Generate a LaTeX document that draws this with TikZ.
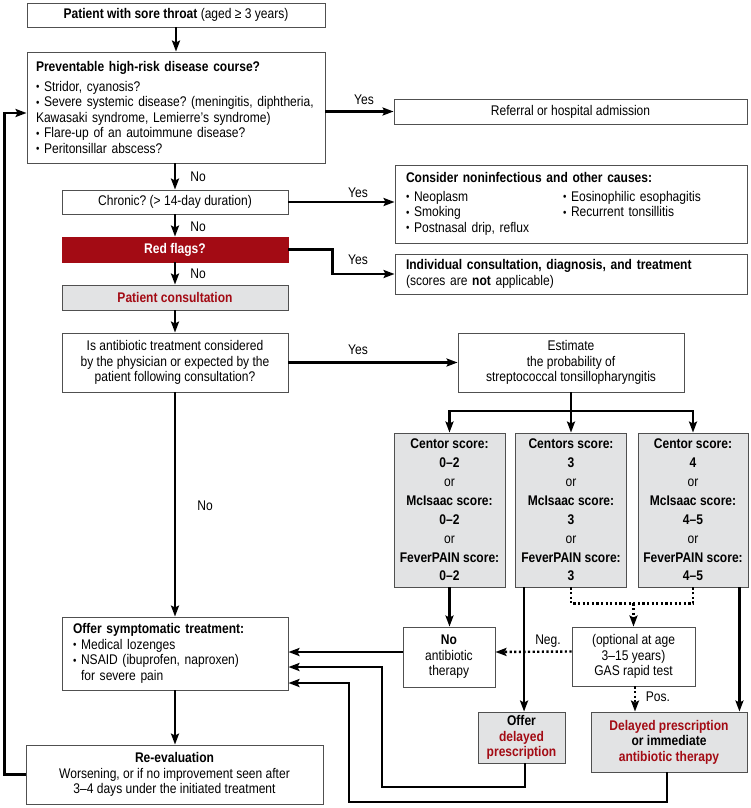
\documentclass[tikz,border=0pt]{standalone}
\usepackage{fontspec}
\setmainfont{Liberation Sans}[FakeStretch=0.86]
\usetikzlibrary{arrows.meta}
\definecolor{darkred}{HTML}{A30B14}
\definecolor{boxgrey}{HTML}{E2E3E4}
\definecolor{edge}{HTML}{505050}
\frenchspacing
\newcommand\fs{\fontsize{14}{15.5}\selectfont}
\newcommand\bul{\raisebox{0.5pt}{\scalebox{0.8}{•}}\ }
\tikzset{
 bx/.style={draw=edge, line width=0.9pt, fill=white, inner sep=0pt, align=center, font=\fs},
 gbx/.style={bx, fill=boxgrey},
 conn/.style={line width=2.7pt, -{Stealth[length=11pt,width=8pt,inset=2pt]}},
 plainline/.style={line width=2.7pt},
 dotl/.style={line width=2.4pt, dash pattern=on 2.2pt off 2.4pt},
 dotarrow/.style={dotl, -{Stealth[length=11pt,width=8pt,inset=2pt]}},
 lbl/.style={font=\fs, inner sep=0pt},
 scorefont/.style={font=\fontsize{14}{18.9}\selectfont\bfseries}
}
\begin{document}
\begin{tikzpicture}[x=1pt,y=-1pt]
\useasboundingbox[fill=white] (0,0) rectangle (751,808);

% nodes
\node[bx, minimum width=298pt, minimum height=24pt] (start) at (176,15) {\textbf{Patient with sore throat} (aged ≥ 3 years)};
\node[bx, minimum width=298pt, minimum height=111pt, text width=280pt, align=left] (risk) at (176,107.5)
 {\textbf{Preventable high-risk disease course?}\\[4pt]
  \bul Stridor, cyanosis?\\
  \bul Severe systemic disease? (meningitis, diphtheria,\\
  Kawasaki syndrome, Lemierre’s syndrome)\\
  \bul Flare-up of an autoimmune disease?\\
  \bul Peritonsillar abscess?};
\node[bx, minimum width=353pt, minimum height=25pt] (refer) at (570.5,111.5) {Referral or hospital admission};
\node[bx, minimum width=226pt, minimum height=24pt] (chronic) at (175,202) {Chronic? (> 14-day duration)};
\node[bx, minimum width=352pt, minimum height=78pt, text width=330pt, align=left] (causes) at (571,204)
 {\textbf{Consider noninfectious and other causes:}\\[3pt]
  \makebox[157pt][l]{\bul Neoplasm}\bul Eosinophilic esophagitis\\
  \makebox[157pt][l]{\bul Smoking}\bul Recurrent tonsillitis\\
  \bul Postnasal drip, reflux};
\node[bx, draw=darkred, fill=darkred, text=white, font=\fs\bfseries, minimum width=226pt, minimum height=25pt] (red) at (175,249.5) {Red flags?};
\node[bx, minimum width=352pt, minimum height=40pt, text width=330pt, align=left] (indiv) at (571,274)
 {\textbf{Individual consultation, diagnosis, and treatment}\\ (scores are \textbf{not} applicable)};
\node[gbx, text=darkred, font=\fs\bfseries, minimum width=226pt, minimum height=25pt] (consult) at (175,297.5) {Patient consultation};
\node[bx, minimum width=226pt, minimum height=59pt] (abq) at (175,362.5)
 {Is antibiotic treatment considered\\ by the physician or expected by the\\ patient following consultation?};
\node[bx, minimum width=226pt, minimum height=59pt] (est) at (571,362.5)
 {Estimate\\ the probability of\\ streptococcal tonsillopharyngitis};
\node[gbx, scorefont, minimum width=111pt, minimum height=154pt] (sA) at (449.5,510)
 {Centor score:\\ 0–2\\ \textmd{or}\\ McIsaac score:\\ 0–2\\ \textmd{or}\\ FeverPAIN score:\\ 0–2};
\node[gbx, scorefont, minimum width=111pt, minimum height=154pt] (sB) at (571,510)
 {Centors score:\\ 3\\ \textmd{or}\\ McIsaac score:\\ 3\\ \textmd{or}\\ FeverPAIN score:\\ 3};
\node[gbx, scorefont, minimum width=110pt, minimum height=154pt] (sC) at (693,510)
 {Centor score:\\ 4\\ \textmd{or}\\ McIsaac score:\\ 4–5\\ \textmd{or}\\ FeverPAIN score:\\ 4–5};
\node[bx, minimum width=92pt, minimum height=60pt] (noab) at (449,657) {\textbf{No}\\ antibiotic\\ therapy};
\node[bx, minimum width=123pt, minimum height=59pt] (gas) at (633.5,656.5) {(optional at age\\ 3–15 years)\\ GAS rapid test};
\node[gbx, font=\fs\bfseries, minimum width=87pt, minimum height=51pt] (offer) at (521.5,737.5)
 {Offer\\ \textcolor{darkred}{delayed}\\ \textcolor{darkred}{prescription}};
\node[gbx, font=\fs\bfseries, minimum width=156pt, minimum height=60pt] (delay) at (669,742)
 {\textcolor{darkred}{Delayed prescription}\\ or immediate\\ \textcolor{darkred}{antibiotic therapy}};
\node[bx, minimum width=226pt, minimum height=73pt, text width=204pt, align=left] (symp) at (175,653.5)
 {\textbf{Offer symptomatic treatment:}\\
  \bul Medical lozenges\\
  \bul NSAID (ibuprofen, naproxen)\\
  \phantom{\bul}for severe pain};
\node[bx, minimum width=297pt, minimum height=59pt] (reeval) at (174.5,774.5)
 {\textbf{Re-evaluation}\\ Worsening, or if no improvement seen after\\ 3–4 days under the initiated treatment};

% labels
\node[lbl] (yes1) at (364,100) {Yes};
\node[lbl] (yes2) at (358,193) {Yes};
\node[lbl] (yes3) at (358,260) {Yes};
\node[lbl] (yes4) at (358,350) {Yes};
\node[lbl] (no1) at (198,177) {No};
\node[lbl] (no2) at (198,227) {No};
\node[lbl] (no3) at (198,274) {No};
\node[lbl] (no4) at (205,506) {No};
\node[lbl] (neg) at (548,641) {Neg.};
\node[lbl] (pos) at (658,697) {Pos.};

% coordinates for bends
\coordinate (split) at (571,411);
\coordinate (bend1) at (382,787);
\coordinate (bend2) at (349,802);
\coordinate (loopx) at (4.5,774.5);

% connectors
\draw[conn] (start) -- (risk);
\draw[conn] (risk.east |- refer.west) -- (refer.west);
\draw[conn] (risk.south -| chronic.north) -- (chronic.north);
\draw[conn] (chronic.east) -- (chronic.east -| causes.west);
\draw[conn] (chronic) -- (red);
\draw[conn] (red.east) -- ++(44,0) |- (indiv.west);
\draw[conn] (red) -- (consult);
\draw[conn] (consult) -- (abq);
\draw[conn] (abq) -- (est);
\draw[plainline] (est.south) -- (split);
\draw[conn] (split) -| (sA.north);
\draw[conn] (split) -| (sC.north);
\draw[conn] (split) -- (sB.north);
\draw[conn] (abq) -- (symp);
\draw[conn] (sA.south) -- (sA.south |- noab.north);
\draw[conn] ([yshift=5pt]noab.west) -- ([yshift=5pt]noab.west -| symp.east);
\draw[conn] ([xshift=9pt]sB.south west) -- ([xshift=9pt]sB.south west |- offer.north);
\draw[dotl] (sB.south) -- ++(0,16) coordinate (dl) -- (dl -| sC.south) -- (sC.south);
\draw[dotarrow] (dl -| gas.north) -- (gas.north);
\draw[dotarrow] ([yshift=5pt]gas.west) -- ([yshift=5pt]noab.east);
\draw[dotarrow] ([xshift=1.5pt]gas.south) -- ([xshift=1.5pt]gas.south |- delay.north);
\draw[conn] ([xshift=-9pt]sC.south east) -- ([xshift=-9pt]sC.south east |- delay.north);
\draw[conn] ([xshift=3.5pt]offer.south) |- (bend1) |- ([yshift=-13.5pt]symp.east);
\draw[conn] ([xshift=-2pt]delay.south) |- (bend2) |- ([yshift=-29.5pt]symp.east);
\draw[conn] (symp.south) -- (symp.south |- reeval.north);
\draw[conn] (reeval.west) -- (loopx) |- ([yshift=-5.5pt]risk.west);
\end{tikzpicture}
\end{document}
